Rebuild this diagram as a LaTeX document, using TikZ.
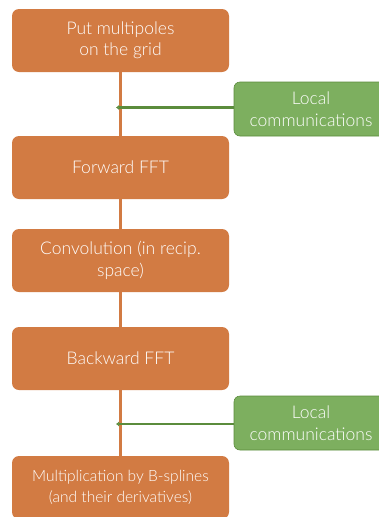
\documentclass[tikz,border=0pt]{standalone}
\usepackage{fontspec}
\setmainfont{Lato Light}
\usetikzlibrary{arrows.meta}
\definecolor{boxorange}{HTML}{D27B43}
\definecolor{boxgreen}{HTML}{7DAF5F}
\definecolor{linegreen}{HTML}{5B8C3C}
\tikzset{
  stepbox/.style={fill=boxorange, rounded corners=7pt, minimum width=217pt, minimum height=63pt,
    text=white, align=center, inner sep=0pt, font=\fontsize{17.5}{21.5}\selectfont},
  commbox/.style={fill=boxgreen, draw=linegreen, line width=0.6pt, rounded corners=6pt, minimum width=154pt, minimum height=54pt,
    text=white, align=center, inner sep=0pt, font=\fontsize{17.5}{21.5}\selectfont},
  flow/.style={draw=boxorange, line width=3pt},
  comm/.style={draw=linegreen, line width=2.6pt, -{Latex[length=3pt,width=5pt]}}
}
\begin{document}
\begin{tikzpicture}[x=1pt,y=-1pt]
\useasboundingbox (0,0) rectangle (379,517);
\node[stepbox] (b1) at (120.5,40.5) {Put multipoles\\on the grid};
\node[stepbox] (b2) at (120.5,167.5) {Forward FFT};
\node[stepbox] (b3) at (120.5,260.5) {Convolution (in recip.\\space)};
\node[stepbox] (b4) at (120.5,358.5) {Backward FFT};
\node[stepbox, font=\fontsize{15.5}{21}\selectfont] (b5) at (120.5,487.5) {Multiplication by B-splines\\(and their derivatives)};
\node[commbox] (g1) at (311,109) {Local\\communications};
\node[commbox] (g2) at (311,423) {Local\\communications};
\coordinate (c1) at (116,107.5);
\coordinate (c2) at (116,424);
\draw[flow] (b1.south) -- (b2.north);
\draw[flow] (b2.south) -- (b3.north);
\draw[flow] (b3.south) -- (b4.north);
\draw[flow] (b4.south) -- (b5.north);
\draw[comm] (c1 -| g1.west) -- (c1);
\draw[comm] (c2 -| g2.west) -- (c2);
\end{tikzpicture}
\end{document}
